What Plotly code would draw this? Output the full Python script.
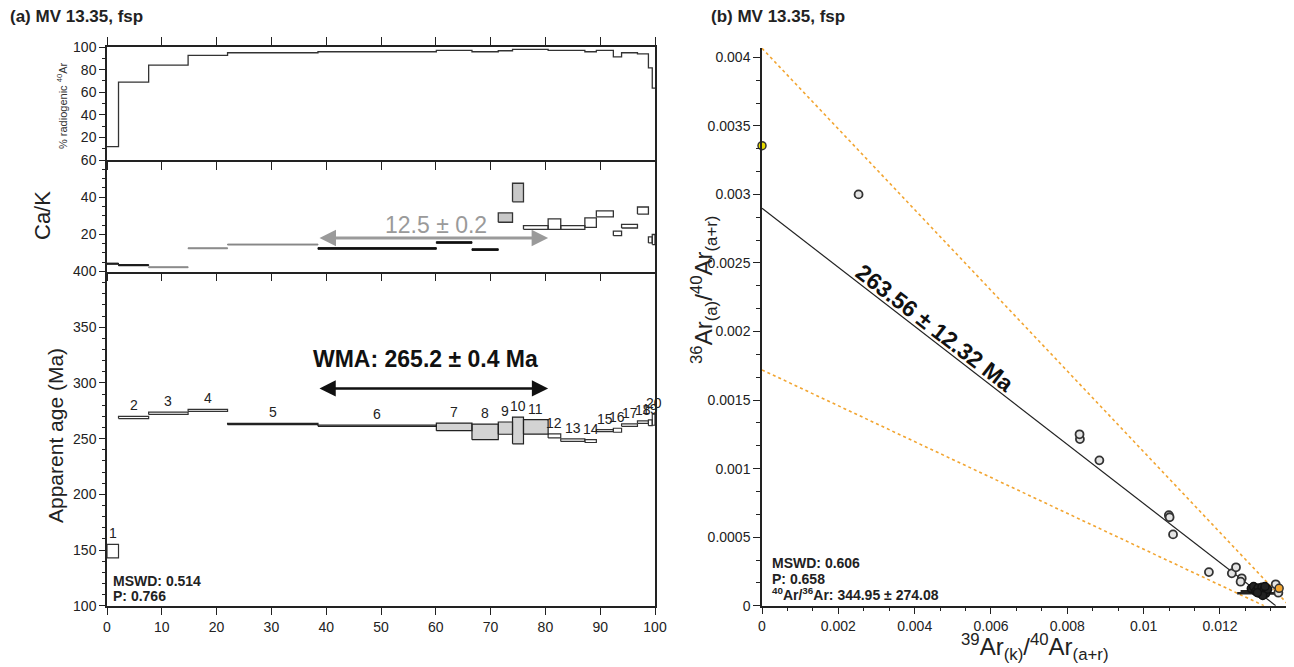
import plotly.graph_objects as go

W, H = 1294, 667
OFF = 8                      # page body margin of the browser
FW, FH = W - OFF, H - OFF

# ---------------- data: step heating (panel a) ----------------
step_edges = [0, 2.1, 7.6, 14.8, 22.0, 38.5, 60.1, 66.6, 71.4, 74.0, 76.0,
              80.5, 82.8, 87.2, 89.3, 92.4, 93.9, 96.8, 98.8, 99.5, 100]
step_labels = [str(i) for i in range(1, 21)]
age_ma = [149.0, 269.0, 272.7, 275.3, 263.1, 261.6, 260.5, 256.0, 259.4, 257.3,
          260.5, 252.4, 248.6, 247.8, 257.2, 257.5, 262.1, 264.8, 264.2, 267.0]
age_err = [6.0, 1.0, 1.0, 0.9, 0.6, 0.6, 3.4, 7.0, 5.5, 12.0,
           6.5, 1.8, 1.1, 1.3, 0.9, 1.8, 1.1, 1.1, 2.6, 5.0]
ca_k = [4.2, 3.4, 2.3, 12.5, 14.5, 12.4, 15.6, 11.8, 29.0, 42.5,
        23.7, 25.5, 23.7, 26.3, 31.0, 20.5, 24.4, 32.8, 17.0, 17.2]
ca_k_err = [0.3, 0.3, 0.25, 0.25, 0.25, 0.45, 0.45, 0.45, 2.5, 5.0,
            1.0, 2.8, 1.0, 2.6, 1.6, 1.2, 1.0, 1.9, 1.6, 2.7]
rad40 = [11.9, 69.0, 83.9, 92.5, 94.9, 95.8, 97.0, 95.8, 96.7, 97.9,
         97.9, 97.0, 97.0, 95.8, 97.0, 91.3, 94.9, 94.0, 81.5, 63.6]
age_group = ['open'] * 4 + ['plateau'] * 7 + ['open'] * 9
cak_group = ['black', 'black', 'gray', 'gray', 'gray', 'black', 'black', 'black',
             'filled', 'filled'] + ['open'] * 10
plateau_range = [38.5, 80.5]
wma_text = "WMA: 265.2 ± 0.4 Ma"
cak_text = "12.5 ± 0.2"
wma_arrow_age = 295.0
cak_arrow_val = 18.0
mswd_a = ["MSWD: 0.514", "P: 0.766"]

# ---------------- data: inverse isochron (panel b) ----------------
iso_x = [0.00253, 0.00833, 0.00832, 0.00884, 0.01066, 0.01068, 0.01077, 0.01171,
         0.01231, 0.01242, 0.01257, 0.01254, 0.01346, 0.01353]
iso_y = [0.00300, 0.001215, 0.00125, 0.00106, 0.00066, 0.000645, 0.00052, 0.000245,
         0.000236, 0.00028, 0.00020, 0.000175, 0.000156, 0.000095]
cluster_x = [0.01282, 0.01288, 0.01294, 0.01300, 0.01305, 0.01310, 0.01315,
             0.01320, 0.01325, 0.01312, 0.01298, 0.01318]
cluster_y = [0.000125, 0.00014, 0.000105, 0.00013, 0.00009, 0.000135, 0.000115,
             0.00009, 0.00012, 0.000075, 0.000095, 0.00014]
cluster_xerr = [0, 0, 0.0004, 0, 0.0006, 0, 0, 0.0003, 0, 0, 0, 0]
atm_x, atm_y = [0.0], [0.003355]
excl_x, excl_y = [0.01355], [0.000127]
trapped_ratio = 344.95
x_intercept = 0.01346
env_upper = ([0.0, 0.013815], [0.004066, 0.0])
env_lower = ([0.0, 0.01315], [0.00172, 0.0])
iso_age_text = "263.56 ± 12.32 Ma"
mswd_b = ["MSWD: 0.606", "P: 0.658",
          "<sup>40</sup>Ar/<sup>36</sup>Ar: 344.95 ± 274.08"]
iso_xticks = [0, 0.002, 0.004, 0.006, 0.008, 0.010, 0.012]
iso_xtick_text = ["0", "0.002", "0.004", "0.006", "0.008", "0.01", "0.012"]
iso_yticks = [0, 0.0005, 0.001, 0.0015, 0.002, 0.0025, 0.003, 0.0035, 0.004]
iso_ytick_text = ["0", "0.0005", "0.001", "0.0015", "0.002", "0.0025", "0.003",
                  "0.0035", "0.004"]

FONT = "Liberation Sans, Arial, sans-serif"
AX = '#222222'


def px(x):
    return (x - OFF) / FW


def py(y):
    return 1 - (y - OFF) / FH


def boxes(idx, centers, errs, xa, ya, fill, line, lw):
    xs, ys = [], []
    for i in idx:
        a, b = step_edges[i], step_edges[i + 1]
        c, e = centers[i], errs[i]
        xs += [a, b, b, a, a, None]
        ys += [c - e, c - e, c + e, c + e, c - e, None]
    return go.Scatter(x=xs, y=ys, mode='lines', fill='toself', fillcolor=fill,
                      line=dict(color=line, width=lw), xaxis=xa, yaxis=ya,
                      hoverinfo='skip', showlegend=False)


fig = go.Figure()

# % radiogenic step line
fig.add_trace(go.Scatter(x=step_edges, y=rad40 + [rad40[-1]], mode='lines',
                         line=dict(color='#333', width=1.3, shape='hv'),
                         xaxis='x', yaxis='y', showlegend=False, hoverinfo='skip'))

# Ca/K boxes
cak_styles = {'black': ('#111', '#111', 1.0), 'gray': ('#888', '#888', 1.0),
              'filled': ('#c8c8c8', '#333', 1.3), 'open': ('white', '#333', 1.3)}
for g, (fc, lc, lw) in cak_styles.items():
    idx = [i for i, s in enumerate(cak_group) if s == g]
    fig.add_trace(boxes(idx, ca_k, ca_k_err, 'x2', 'y2', fc, lc, lw))

# age boxes
age_styles = {'open': ('white', '#333', 1.2), 'plateau': ('#d3d3d3', '#222', 1.2)}
for g, (fc, lc, lw) in age_styles.items():
    idx = [i for i, s in enumerate(age_group) if s == g]
    fig.add_trace(boxes(idx, age_ma, age_err, 'x3', 'y3', fc, lc, lw))

# isochron: envelopes, regression, points
for ex, ey in (env_upper, env_lower):
    fig.add_trace(go.Scatter(x=ex, y=ey, mode='lines',
                             line=dict(color='#f2a531', width=1.6, dash='dot'),
                             xaxis='x4', yaxis='y4', showlegend=False, hoverinfo='skip'))
fig.add_trace(go.Scatter(x=[0, x_intercept], y=[1 / trapped_ratio, 0], mode='lines',
                         line=dict(color='#222', width=1.2),
                         xaxis='x4', yaxis='y4', showlegend=False, hoverinfo='skip'))
fig.add_trace(go.Scatter(x=cluster_x, y=cluster_y, mode='markers',
                         marker=dict(size=8, color='#222', line=dict(color='#111', width=1.5)),
                         error_x=dict(type='data', array=cluster_xerr, color='#222',
                                      thickness=2.5, width=0),
                         xaxis='x4', yaxis='y4', showlegend=False, hoverinfo='skip'))
fig.add_trace(go.Scatter(x=iso_x, y=iso_y, mode='markers',
                         marker=dict(size=8, color='#e4e4e4', line=dict(color='#333', width=1.8)),
                         xaxis='x4', yaxis='y4', showlegend=False, hoverinfo='skip'))
fig.add_trace(go.Scatter(x=excl_x, y=excl_y, mode='markers',
                         marker=dict(size=8, color='#f2a531', line=dict(color='#333', width=1.5)),
                         xaxis='x4', yaxis='y4', showlegend=False, hoverinfo='skip'))
fig.add_trace(go.Scatter(x=atm_x, y=atm_y, mode='markers', cliponaxis=False,
                         marker=dict(size=8, color='#e8dc00', line=dict(color='#333', width=1.5)),
                         xaxis='x4', yaxis='y4', showlegend=False, hoverinfo='skip'))

# ---------------- axes ----------------
xdom_a = [px(107), px(655)]
tickfont = dict(family=FONT, size=14, color=AX)
xcommon = dict(domain=xdom_a, range=[0, 100], showline=True, linecolor=AX, linewidth=1.5,
               showgrid=False, zeroline=False, ticks='outside', ticklen=8, tickwidth=1.2,
               tickcolor=AX, tickmode='linear', tick0=0, dtick=10, tickfont=tickfont,
               automargin=False)
ycommon = dict(showline=True, linecolor=AX, linewidth=1.5, showgrid=False, zeroline=False,
               ticks='outside', ticklen=6, tickwidth=1.2, tickcolor=AX, mirror=True,
               tickfont=tickfont, automargin=False)

layout = dict(
    template='none',
    width=FW, height=FH, margin=dict(l=0, r=0, t=0, b=0, pad=0, autoexpand=False),
    paper_bgcolor='white', plot_bgcolor='white', showlegend=False,
    font=dict(family=FONT, color=AX),
    xaxis=dict(xcommon, anchor='y', mirror='ticks', showticklabels=False),
    xaxis2=dict(xcommon, anchor='y2', mirror=False, showticklabels=False),
    xaxis3=dict(xcommon, anchor='y3', mirror=False, showticklabels=True),
    yaxis=dict(ycommon, domain=[py(160), py(47)], anchor='x', range=[0, 100],
               tickmode='array', tickvals=[20, 40, 60, 80, 100],
               minor=dict(tickmode='linear', tick0=0, dtick=10, ticks='outside',
                          ticklen=3, tickcolor=AX)),
    yaxis2=dict(ycommon, domain=[py(271.5), py(160)], anchor='x2', range=[0, 60],
                tickmode='array', tickvals=[20, 40, 60],
                minor=dict(tickmode='linear', tick0=0, dtick=5, ticks='outside',
                           ticklen=3, tickcolor=AX)),
    yaxis3=dict(ycommon, domain=[py(605.7), py(271.5)], anchor='x3', range=[100, 400],
                tickmode='linear', tick0=100, dtick=50,
                minor=dict(tickmode='linear', tick0=100, dtick=10, ticks='outside',
                           ticklen=3, tickcolor=AX)),
    xaxis4=dict(domain=[px(762), px(1292)], anchor='y4', range=[0, 0.013887],
                showline=True, linecolor=AX, linewidth=1.5, showgrid=False, zeroline=False,
                ticks='outside', ticklen=7, tickwidth=1.2, tickcolor=AX,
                tickmode='array', tickvals=iso_xticks, ticktext=iso_xtick_text,
                tickfont=tickfont, automargin=False,
                minor=dict(tickmode='linear', tick0=0, dtick=0.002 / 3, ticks='outside',
                           ticklen=4, tickcolor=AX)),
    yaxis4=dict(domain=[py(605.7), py(47.7)], anchor='x4', range=[0, 0.00407],
                showline=True, linecolor=AX, linewidth=1.5, showgrid=False, zeroline=False,
                ticks='outside', ticklen=7, tickwidth=1.2, tickcolor=AX,
                tickmode='array', tickvals=iso_yticks, ticktext=iso_ytick_text,
                tickfont=tickfont, automargin=False,
                minor=dict(tickmode='linear', tick0=0, dtick=0.0005 / 3, ticks='outside',
                           ticklen=4, tickcolor=AX)),
)
fig.update_layout(**layout)

ann = []


def txt(x, y, s, size, bold=False, color=AX, xanchor='center', yanchor='middle',
        angle=0, xref='paper', yref='paper', yshift=0):
    if bold:
        s = '<b>' + s + '</b>'
    ann.append(dict(x=x, y=y, xref=xref, yref=yref, text=s, showarrow=False,
                    xanchor=xanchor, yanchor=yanchor, textangle=angle, yshift=yshift,
                    font=dict(family=FONT, size=size, color=color)))


# titles
txt(px(8), py(17), "(a) MV 13.35, fsp", 17, bold=True, xanchor='left')
txt(px(709), py(17), "(b) MV 13.35, fsp", 17, bold=True, xanchor='left')

# left axis titles
txt(px(62), py(106), "% radiogenic <sup>40</sup>Ar", 11, angle=-90, color='#333')
txt(px(42), py(216), "Ca/K", 22, angle=-90)
txt(px(56), py(436), "Apparent age (Ma)", 21, angle=-90)

# step labels above each age box
for i, lab in enumerate(step_labels):
    mid = (step_edges[i] + step_edges[i + 1]) / 2
    txt(mid, age_ma[i] + age_err[i], lab, 14, xref='x3', yref='y3', yanchor='bottom',
        yshift=1)

# plateau arrows and texts
ann.append(dict(x=plateau_range[1], y=wma_arrow_age, ax=plateau_range[0], ay=wma_arrow_age,
                xref='x3', yref='y3', axref='x3', ayref='y3', text='', showarrow=True,
                arrowhead=2, arrowside='end+start', arrowsize=1.3, arrowwidth=2.5,
                arrowcolor='#111'))
txt(sum(plateau_range) / 2 - 1.3, 321.6, wma_text, 23, bold=True, color='#111',
    xref='x3', yref='y3')
ann.append(dict(x=plateau_range[1], y=cak_arrow_val, ax=plateau_range[0], ay=cak_arrow_val,
                xref='x2', yref='y2', axref='x2', ayref='y2', text='', showarrow=True,
                arrowhead=2, arrowside='end+start', arrowsize=1.1, arrowwidth=3,
                arrowcolor='#9a9a9a'))
txt(sum(plateau_range) / 2 + 0.5, 24.9, cak_text, 23, color='#9a9a9a', xref='x2', yref='y2')

# stats texts
txt(px(111), py(580.7), mswd_a[0], 14, bold=True, xanchor='left')
txt(px(111), py(596), mswd_a[1], 14, bold=True, xanchor='left')
for k, s in enumerate(mswd_b):
    txt(px(770), py(562.7 + 15.8 * k), s, 14, bold=True, xanchor='left')

# isochron age along regression line
txt(0.004533, 0.002026, iso_age_text, 23, bold=True, color='#111', angle=37.7,
    xref='x4', yref='y4')

# isochron axis titles
txt(px(1035), py(647), "<sup>39</sup>Ar<sub>(k)</sub>/<sup>40</sup>Ar<sub>(a+r)</sub>", 24)
txt(px(704), py(290), "<sup>36</sup>Ar<sub>(a)</sub>/<sup>40</sup>Ar<sub>(a+r)</sub>", 24,
    angle=-90)

fig.update_layout(annotations=ann)
fig.write_html("out.html")
